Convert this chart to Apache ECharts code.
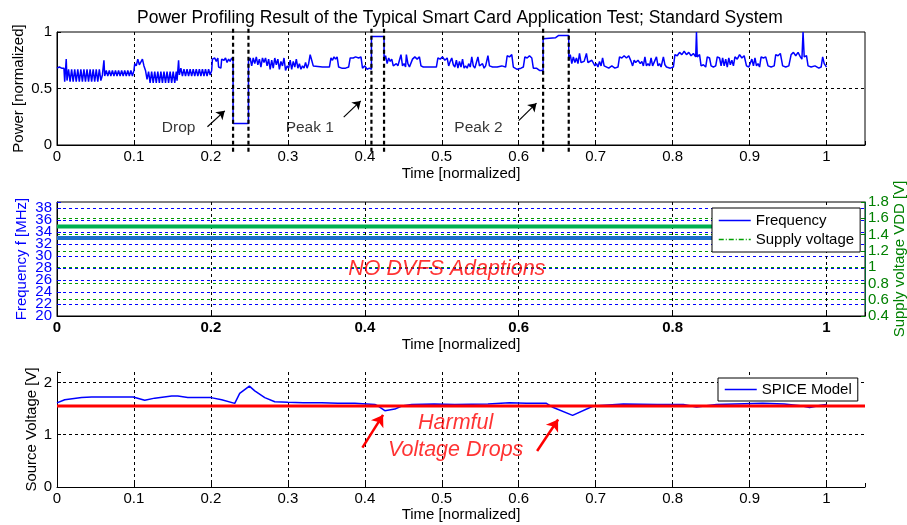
<!DOCTYPE html>
<html>
<head>
<meta charset="utf-8">
<title>Power Profiling Result</title>
<script src="https://cdn.jsdelivr.net/npm/echarts@6/dist/echarts.min.js"></script>
<style>
    html, body { margin: 0; padding: 0; background: #fff; }
    #chart { width: 907px; height: 525px; }
</style>
</head>
<body>
<div id="chart"></div>
<script>
// values (time is normalized, 0..1)
var powerData = [
    [0, 0.68], [0.003, 0.69], [0.006, 0.68], [0.009, 0.68],
    [0.010, 0.56], [0.012, 0.76], [0.013, 0.57], [0.015, 0.67], [0.017, 0.56], [0.019, 0.67], [0.021, 0.56], [0.023, 0.67],
    [0.025, 0.56], [0.027, 0.67], [0.029, 0.56], [0.031, 0.67], [0.033, 0.56], [0.035, 0.67], [0.037, 0.56], [0.039, 0.67],
    [0.041, 0.56], [0.043, 0.67], [0.045, 0.56], [0.047, 0.67], [0.049, 0.56], [0.051, 0.67], [0.053, 0.56], [0.055, 0.67],
    [0.057, 0.57],
    [0.059, 0.62], [0.061, 0.75], [0.062, 0.61], [0.064, 0.66], [0.066, 0.61], [0.068, 0.66], [0.070, 0.61], [0.072, 0.66],
    [0.074, 0.61], [0.076, 0.66], [0.078, 0.61], [0.080, 0.66], [0.082, 0.61], [0.084, 0.66], [0.086, 0.61], [0.088, 0.66],
    [0.090, 0.61], [0.092, 0.66], [0.094, 0.61], [0.096, 0.66], [0.098, 0.61], [0.100, 0.66],
    [0.101, 0.72], [0.103, 0.70], [0.105, 0.76], [0.107, 0.71], [0.109, 0.72], [0.111, 0.76], [0.113, 0.70], [0.115, 0.66],
    [0.117, 0.58], [0.119, 0.65], [0.121, 0.55], [0.123, 0.65], [0.125, 0.55], [0.127, 0.65], [0.129, 0.55], [0.131, 0.65],
    [0.133, 0.55], [0.135, 0.65], [0.137, 0.55], [0.139, 0.65], [0.141, 0.55], [0.143, 0.65], [0.145, 0.55], [0.147, 0.65],
    [0.149, 0.55], [0.151, 0.65], [0.153, 0.55], [0.155, 0.65], [0.156, 0.57],
    [0.158, 0.75], [0.159, 0.62], [0.161, 0.68], [0.163, 0.61], [0.165, 0.67], [0.167, 0.61], [0.169, 0.67], [0.171, 0.61],
    [0.173, 0.67], [0.175, 0.61], [0.177, 0.67], [0.179, 0.61], [0.181, 0.67], [0.183, 0.61], [0.185, 0.67], [0.187, 0.61],
    [0.189, 0.67], [0.191, 0.61], [0.193, 0.67], [0.195, 0.61], [0.197, 0.67], [0.199, 0.62],
    [0.201, 0.66], [0.202, 0.76], [0.205, 0.77], [0.207, 0.74], [0.209, 0.77], [0.210, 0.69], [0.213, 0.68], [0.214, 0.76],
    [0.217, 0.75], [0.219, 0.77], [0.221, 0.73], [0.223, 0.76], [0.225, 0.74], [0.227, 0.77], [0.2288, 0.75],
    [0.2288, 0.19], [0.2488, 0.19], [0.2488, 0.74],
    [0.251, 0.77], [0.253, 0.70], [0.255, 0.77], [0.257, 0.72], [0.259, 0.78], [0.261, 0.71], [0.263, 0.76], [0.265, 0.69],
    [0.267, 0.77], [0.269, 0.73], [0.271, 0.77], [0.273, 0.70], [0.275, 0.76], [0.277, 0.67], [0.279, 0.75], [0.281, 0.68],
    [0.283, 0.77], [0.285, 0.71], [0.287, 0.76], [0.289, 0.67], [0.291, 0.74], [0.293, 0.70], [0.295, 0.77], [0.297, 0.66],
    [0.299, 0.70], [0.301, 0.68], [0.303, 0.75], [0.305, 0.67], [0.307, 0.74], [0.309, 0.69], [0.311, 0.76], [0.313, 0.68],
    [0.315, 0.72], [0.317, 0.67], [0.319, 0.70], [0.321, 0.68], [0.323, 0.73], [0.325, 0.68], [0.327, 0.72], [0.329, 0.80],
    [0.331, 0.75], [0.333, 0.70], [0.335, 0.69], [0.345, 0.69], [0.354, 0.69], [0.356, 0.77], [0.358, 0.75], [0.360, 0.78],
    [0.362, 0.76], [0.364, 0.78], [0.366, 0.69], [0.370, 0.68], [0.375, 0.68], [0.379, 0.69], [0.381, 0.77], [0.385, 0.77],
    [0.388, 0.78], [0.392, 0.77], [0.395, 0.78], [0.397, 0.68], [0.400, 0.70], [0.403, 0.67], [0.406, 0.68], [0.4086, 0.67],
    [0.4086, 0.96], [0.425, 0.96], [0.425, 0.75],
    [0.427, 0.79], [0.429, 0.72], [0.431, 0.77], [0.433, 0.74], [0.435, 0.76], [0.437, 0.70], [0.439, 0.69], [0.441, 0.72],
    [0.443, 0.70], [0.445, 0.75], [0.447, 0.80], [0.449, 0.70], [0.451, 0.72], [0.453, 0.69], [0.454, 0.80], [0.456, 0.72],
    [0.458, 0.69], [0.460, 0.70], [0.462, 0.76], [0.465, 0.78], [0.468, 0.76], [0.471, 0.78], [0.473, 0.70], [0.476, 0.69],
    [0.485, 0.69], [0.493, 0.69], [0.495, 0.77], [0.498, 0.76], [0.501, 0.78], [0.504, 0.75], [0.507, 0.77], [0.509, 0.70],
    [0.511, 0.74], [0.513, 0.77], [0.515, 0.71], [0.517, 0.69], [0.519, 0.75], [0.521, 0.68], [0.523, 0.74], [0.525, 0.69],
    [0.527, 0.76], [0.529, 0.68], [0.531, 0.70], [0.533, 0.68], [0.535, 0.72], [0.537, 0.69], [0.539, 0.78], [0.541, 0.70],
    [0.543, 0.68], [0.545, 0.73], [0.547, 0.78], [0.549, 0.70], [0.551, 0.69], [0.553, 0.72], [0.555, 0.68], [0.557, 0.70],
    [0.560, 0.79], [0.562, 0.70], [0.566, 0.69], [0.572, 0.69], [0.578, 0.70], [0.583, 0.69], [0.585, 0.79], [0.588, 0.78],
    [0.591, 0.80], [0.593, 0.69], [0.598, 0.67], [0.603, 0.68], [0.606, 0.69], [0.608, 0.78], [0.611, 0.77], [0.614, 0.79],
    [0.617, 0.77], [0.619, 0.68], [0.623, 0.68], [0.627, 0.66], [0.6317, 0.66],
    [0.6317, 0.94], [0.648, 0.95], [0.652, 0.97], [0.665, 0.97], [0.665, 0.75],
    [0.667, 0.80], [0.669, 0.72], [0.671, 0.78], [0.673, 0.73], [0.675, 0.77], [0.677, 0.72], [0.679, 0.81], [0.681, 0.73],
    [0.683, 0.72], [0.685, 0.74], [0.688, 0.81], [0.690, 0.73], [0.692, 0.72], [0.695, 0.75], [0.697, 0.74], [0.699, 0.70],
    [0.701, 0.72], [0.703, 0.69], [0.705, 0.74], [0.707, 0.70], [0.709, 0.77], [0.711, 0.70], [0.713, 0.69], [0.717, 0.68],
    [0.721, 0.70], [0.725, 0.68], [0.729, 0.69], [0.731, 0.78], [0.734, 0.77], [0.737, 0.79], [0.740, 0.77], [0.743, 0.79],
    [0.746, 0.74], [0.748, 0.70], [0.750, 0.75],
    [0.752, 0.73], [0.755, 0.75], [0.758, 0.72], [0.760, 0.74], [0.762, 0.70], [0.764, 0.78], [0.766, 0.70], [0.768, 0.72],
    [0.770, 0.70], [0.772, 0.77], [0.774, 0.70], [0.776, 0.71], [0.779, 0.78], [0.781, 0.70], [0.783, 0.72], [0.785, 0.69],
    [0.788, 0.78], [0.790, 0.71], [0.792, 0.69], [0.797, 0.68], [0.801, 0.69], [0.803, 0.80], [0.806, 0.79], [0.809, 0.82],
    [0.812, 0.80], [0.815, 0.83], [0.818, 0.80], [0.821, 0.82], [0.824, 0.79], [0.827, 0.81], [0.830, 0.78], [0.831, 1.00],
    [0.832, 0.78], [0.835, 0.80], [0.837, 0.70], [0.840, 0.71], [0.843, 0.69], [0.845, 0.78], [0.848, 0.77], [0.850, 0.70],
    [0.853, 0.69], [0.856, 0.70], [0.858, 0.78], [0.861, 0.77], [0.863, 0.70], [0.865, 0.77], [0.867, 0.70], [0.869, 0.76],
    [0.871, 0.69], [0.873, 0.77], [0.875, 0.71], [0.877, 0.75], [0.879, 0.70], [0.881, 0.78], [0.884, 0.76], [0.887, 0.80],
    [0.890, 0.77], [0.893, 0.79], [0.896, 0.70], [0.899, 0.69], [0.901, 0.70], [0.903, 0.76], [0.905, 0.70], [0.907, 0.77],
    [0.909, 0.70], [0.911, 0.72], [0.913, 0.69], [0.915, 0.78], [0.918, 0.77], [0.921, 0.78], [0.924, 0.70], [0.928, 0.69],
    [0.932, 0.70], [0.934, 0.80], [0.937, 0.79], [0.940, 0.81], [0.943, 0.70], [0.947, 0.69], [0.951, 0.70], [0.954, 0.80],
    [0.957, 0.82], [0.960, 0.79], [0.963, 0.82], [0.966, 0.78], [0.968, 0.76], [0.9695, 1.00], [0.971, 0.78], [0.974, 0.79],
    [0.976, 0.70], [0.980, 0.69], [0.985, 0.70], [0.990, 0.68], [0.993, 0.69], [0.995, 0.78], [0.997, 0.72], [1.0, 0.69]
];

// thick dashed markers around the drop and the two peaks
var eventTimes = [0.2288, 0.2488, 0.4086, 0.425, 0.6317, 0.665];
var eventSpan = [-0.06, 1.05];

var eventLabels = [
    { name: 'Drop', value: [0.158, 0.151] },
    { name: 'Peak 1', value: [0.3285, 0.151] },
    { name: 'Peak 2', value: [0.5477, 0.151] }
];
var eventArrows = [
    [[0.1955, 0.162], [0.2180, 0.302]],
    [[0.3726, 0.247], [0.3947, 0.390]],
    [[0.6000, 0.216], [0.6231, 0.370]]
];

// middle panel: constant frequency / supply voltage
var freqData = [[0, 33], [1, 33]];
var vddData = [[0, 1.5], [1, 1.5]];

// bottom panel: SPICE source voltage
var spiceData = [
    [0, 1.61], [0.010, 1.67], [0.032, 1.71], [0.045, 1.72], [0.099, 1.72], [0.114, 1.66], [0.127, 1.70], [0.149, 1.74],
    [0.157, 1.74], [0.170, 1.71], [0.200, 1.71], [0.214, 1.67], [0.231, 1.60], [0.2374, 1.79], [0.250, 1.93], [0.257, 1.84],
    [0.270, 1.71], [0.283, 1.63], [0.300, 1.62], [0.320, 1.61], [0.344, 1.61], [0.365, 1.60], [0.387, 1.60], [0.413, 1.58],
    [0.417, 1.55], [0.426, 1.46], [0.439, 1.49], [0.448, 1.55], [0.461, 1.58], [0.490, 1.59], [0.517, 1.58], [0.560, 1.59],
    [0.588, 1.61], [0.610, 1.60], [0.636, 1.60], [0.645, 1.52], [0.670, 1.37], [0.697, 1.55], [0.736, 1.59], [0.780, 1.58],
    [0.814, 1.58], [0.831, 1.53], [0.857, 1.58], [0.917, 1.60], [0.945, 1.59], [0.969, 1.55], [0.978, 1.52], [0.991, 1.56],
    [1.0, 1.58]
];
var thresholdData = [[0, 1.55], [1.05, 1.55]];
var dropArrows = [
    [[0.3969, 0.753], [0.4237, 1.379]],
    [[0.6239, 0.689], [0.6512, 1.290]]
];
var dropLabels = [
    { name: 'Harmful', value: [0.518, 1.226] },
    { name: 'Voltage Drops', value: [0.518, 0.703] }
];

var FONT = '"Liberation Sans", Arial, Helvetica, sans-serif';
var FS = 15;
var DASH = [3, 3];

function timeAxis(gridIndex, interval, bold, nameGap) {
    return {
        type: 'value', gridIndex: gridIndex, min: 0, max: 1.05, interval: interval,
        name: 'Time [normalized]', nameLocation: 'middle', nameGap: nameGap, nameMoveOverlap: false,
        nameTextStyle: { color: '#000', fontSize: FS, fontFamily: FONT },
        axisLine: { show: true, onZero: false, lineStyle: { color: '#000', width: 1 } },
        axisTick: { show: true, inside: true, length: 4, lineStyle: { color: '#000' } },
        axisLabel: {
            color: '#000', fontSize: FS, fontFamily: FONT, margin: 4,
            fontWeight: bold ? 'bold' : 'normal', showMinLabel: true,
            formatter: function (v) { return v > 1.001 ? '' : String(+v.toFixed(2)); }
        },
        splitLine: { show: true, showMinLine: false, showMaxLine: false, lineStyle: { color: '#000', type: DASH, width: 1 } }
    };
}

function valueAxis(gridIndex, min, max, interval, color, gridColor, labelMax) {
    return {
        type: 'value', gridIndex: gridIndex, min: min, max: max, interval: interval,
        nameLocation: 'middle', nameMoveOverlap: false,
        nameTextStyle: { color: color, fontSize: FS, fontFamily: FONT },
        axisLine: { show: true, onZero: false, lineStyle: { color: '#000', width: 1 } },
        axisTick: { show: true, inside: true, length: 4, lineStyle: { color: color } },
        axisLabel: {
            color: color, fontSize: FS, fontFamily: FONT, margin: 5, showMinLabel: true,
            formatter: function (v) { return v > labelMax + 1e-6 ? '' : String(+v.toFixed(2)); }
        },
        splitLine: { show: true, showMinLine: false, showMaxLine: false, lineStyle: { color: gridColor, type: DASH, width: 1 } }
    };
}

function textSeries(name, xi, yi, data, style) {
    return {
        name: name, type: 'scatter', xAxisIndex: xi, yAxisIndex: yi, data: data,
        symbolSize: 1, itemStyle: { color: 'transparent' }, silent: true, z: 6,
        label: Object.assign({ show: true, position: 'inside', formatter: '{b}', fontFamily: FONT }, style)
    };
}

function arrowLines(list) {
    return list.map(function (a) { return [{ coord: a[0] }, { coord: a[1] }]; });
}

var chart = echarts.init(document.getElementById('chart'), null, { renderer: 'canvas' });

var xTop = timeAxis(0, 0.1, false, 21);
var xMid = timeAxis(1, 0.2, true, 21);
var xBot = timeAxis(2, 0.1, false, 20);

var yPower = valueAxis(0, 0, 1, 0.5, '#000', '#000', 1);
yPower.name = 'Power [normalized]';
yPower.nameGap = 31;

// frequency labels are packed tighter than the font: ECharts would drop the
// one next to the min label, so the min label "20" comes from a helper axis
var yFreq = valueAxis(1, 20, 39, 2, '#0000ff', '#0000ff', 38);
yFreq.position = 'left';
yFreq.name = 'Frequency f [MHz]';
yFreq.nameGap = 28;
yFreq.axisLabel.showMinLabel = false;

var yFreqMin = valueAxis(1, 20, 39, 19, '#0000ff', '#0000ff', 20);
yFreqMin.position = 'left';
yFreqMin.offset = 0;
yFreqMin.axisLine.show = false;
yFreqMin.axisTick.show = false;
yFreqMin.splitLine.show = false;

var yVdd = valueAxis(1, 0.4, 1.8, 0.2, '#008000', '#009900', 1.8);
yVdd.position = 'right';
yVdd.name = 'Supply voltage VDD [V]';
yVdd.nameGap = 27;
yVdd.axisLine.lineStyle.color = '#006633';
yVdd.axisLabel.margin = 3;

var ySrc = valueAxis(2, 0, 2.2, 1, '#000', '#000', 2);
ySrc.name = 'Source Voltage [V]';
ySrc.nameGap = 18;

var series = [];

series.push({
    name: 'Power', type: 'line', xAxisIndex: 0, yAxisIndex: 0, data: powerData,
    symbol: 'none', lineStyle: { color: '#0000ff', width: 1.5 }, itemStyle: { color: '#0000ff' },
    markLine: {
        silent: true, symbol: ['none', 'arrow'], symbolSize: 8,
        label: { show: false },
        lineStyle: { color: '#000', type: 'solid', width: 1.2 },
        data: arrowLines(eventArrows)
    }
});

eventTimes.forEach(function (t, i) {
    series.push({
        name: 'event' + i, type: 'line', xAxisIndex: 0, yAxisIndex: 0,
        data: [[t, eventSpan[0]], [t, eventSpan[1]]], clip: false, z: 5,
        symbol: 'none', lineStyle: { color: '#000', width: 2.2, type: [4, 3] }
    });
});

series.push(textSeries('eventText', 0, 0, eventLabels, { color: '#000', fontSize: 15.5 }));

series.push({
    name: 'Frequency', type: 'line', xAxisIndex: 1, yAxisIndex: 1, data: freqData,
    symbol: 'none', lineStyle: { color: '#1c6fcc', width: 4 }, itemStyle: { color: '#0000ff' }
});
series.push({
    name: 'Supply voltage', type: 'line', xAxisIndex: 1, yAxisIndex: 3, data: vddData,
    symbol: 'none', lineStyle: { color: '#00b050', width: 4 }, itemStyle: { color: '#00a000' }
});
series.push(textSeries('dvfsText', 1, 1, [{ name: 'NO DVFS Adaptions', value: [0.5065, 27.9] }],
    { color: '#ff0000', fontSize: 21.5, fontStyle: 'italic' }));

series.push({
    name: 'SPICE Model', type: 'line', xAxisIndex: 2, yAxisIndex: 4, data: spiceData,
    symbol: 'none', lineStyle: { color: '#0000ff', width: 1.5 }, itemStyle: { color: '#0000ff' }
});
series.push({
    name: 'Threshold', type: 'line', xAxisIndex: 2, yAxisIndex: 4, data: thresholdData,
    symbol: 'none', lineStyle: { color: '#ff0000', width: 3 },
    markLine: {
        silent: true, symbol: ['none', 'arrow'], symbolSize: 11,
        label: { show: false },
        lineStyle: { color: '#ff0000', type: 'solid', width: 2.5 },
        data: arrowLines(dropArrows)
    }
});
series.push(textSeries('dropText', 2, 4, dropLabels, { color: '#ff0000', fontSize: 21.5, fontStyle: 'italic' }));

var legendBox = {
    orient: 'vertical', itemWidth: 32, itemHeight: 12, itemGap: 4,
    backgroundColor: '#fff', borderColor: '#000', borderWidth: 1, borderRadius: 0,
    itemStyle: { opacity: 0 },
    textStyle: { color: '#000', fontSize: FS, fontFamily: FONT },
    selectedMode: false
};

var gridBase = { left: 57, width: 808, containLabel: false, outerBoundsMode: 'none' };

var option = {
    animation: false,
    backgroundColor: '#fff',
    title: {
        text: 'Power Profiling Result of the Typical Smart Card Application Test; Standard System',
        left: 455, top: 4, textAlign: 'center',
        textStyle: { color: '#000', fontSize: 17.5, fontWeight: 'normal', fontFamily: FONT }
    },
    legend: [
        Object.assign({}, legendBox, {
            left: 712, top: 208, padding: [5, 6, 5, 6],
            data: [
                { name: 'Frequency', lineStyle: { color: '#0000ff', width: 1.5, type: 'solid' } },
                { name: 'Supply voltage', lineStyle: { color: '#00a000', width: 1.5, type: [5, 2, 1, 2] } }
            ]
        }),
        Object.assign({}, legendBox, {
            left: 718, top: 378, padding: [4, 6, 4, 6],
            data: [{ name: 'SPICE Model', lineStyle: { color: '#0000ff', width: 1.5 } }]
        })
    ],
    grid: [
        Object.assign({}, gridBase, { top: 32, height: 113, show: true, borderColor: '#000', borderWidth: 1, backgroundColor: '#fff' }),
        Object.assign({}, gridBase, { top: 202, height: 114, show: true, borderColor: '#000', borderWidth: 1, backgroundColor: '#fff' }),
        Object.assign({}, gridBase, { top: 372, height: 115 })
    ],
    xAxis: [xTop, xMid, xBot],
    yAxis: [yPower, yFreq, yFreqMin, yVdd, ySrc],
    series: series
};

chart.setOption(option);
</script>
</body>
</html>
